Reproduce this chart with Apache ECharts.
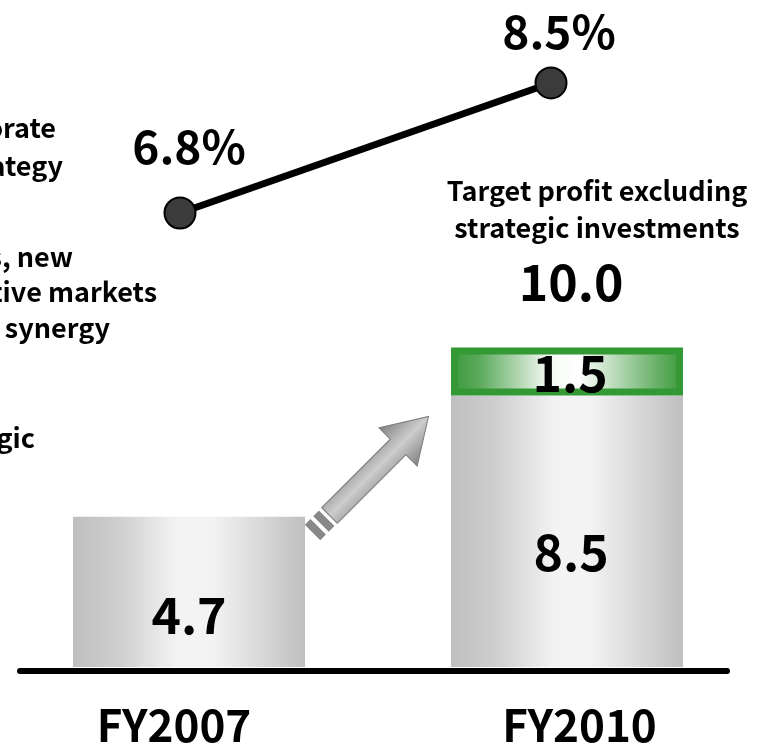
<!DOCTYPE html>
<html>
<head>
<meta charset="utf-8">
<script src="https://cdn.jsdelivr.net/npm/echarts@6/dist/echarts.min.js"></script>
<style>
  html, body { margin: 0; padding: 0; background: #fff; }
  #main { width: 769px; height: 747px; }
</style>
</head>
<body>
<div id="main"></div>
<script>
// data
var years = ['FY2007', 'FY2010'];
var profitBase = [4.7, 8.5];          // gray bars
var strategicInvest = [null, 1.5];    // green part on top
var marginPct = [6.8, 8.5];           // line, %
var totalTitle = ['Target profit excluding', 'strategic investments'];

// cut-off text of the panel on the left
var sideLines = ['Corporate', 'strategy', 'businesses, new', 'competitive markets', 'synergy', 'Strategic'];

var FONT = "'Noto Sans CJK JP', 'Noto Sans', sans-serif";

var grayFill = new echarts.graphic.LinearGradient(0, 0, 1, 0, [
    {offset: 0, color: '#bfbfbf'},
    {offset: 0.2, color: '#cfcfcf'},
    {offset: 0.45, color: '#f3f3f3'},
    {offset: 0.6, color: '#f3f3f3'},
    {offset: 0.85, color: '#d3d3d3'},
    {offset: 1, color: '#bfbfbf'}
]);
var greenFill = new echarts.graphic.LinearGradient(0, 0, 1, 0, [
    {offset: 0, color: '#3a9a3a'},
    {offset: 0.12, color: '#5aa95a'},
    {offset: 0.42, color: '#f4f9f4'},
    {offset: 0.55, color: '#ffffff'},
    {offset: 0.88, color: '#6cb26c'},
    {offset: 1, color: '#3a9a3a'}
]);

function fmt1(v) { return (+v).toFixed(1); }

var baseData = profitBase.map(function (v, i) {
    var item = {value: v};
    if (i == 0) {
        item.label = {position: 'insideBottom', distance: 27};
    } else {
        item.label = {position: 'inside', offset: [4, 21]};
    }
    return item;
});
var extraData = strategicInvest.map(function (v) {
    return v == null ? '-' : v;
});
var totalData = profitBase.map(function (v, i) {
    return strategicInvest[i] == null ? '-' : v + strategicInvest[i];
});

var barLabel = {
    show: true,
    color: '#000',
    fontFamily: FONT,
    fontWeight: 'bold',
    fontSize: 50,
    lineHeight: 50
};

var option = {
    backgroundColor: '#fff',
    animation: false,
    grid: [
        // bars: category centres land under the two boxes
        {left: -4, width: 760, top: 28, bottom: 79},
        // margin line
        {left: 180, width: 371, top: 44.7, height: 229.5},
        // base line
        {left: 20, right: 42, top: 28, bottom: 76}
    ],
    xAxis: [
        {
            gridIndex: 0,
            type: 'category',
            data: years,
            axisLine: {show: false},
            axisTick: {show: false},
            axisLabel: {
                margin: 36,
                formatter: function (v) {
                    return '{y' + years.indexOf(v) + '|' + v + '}';
                },
                rich: {
                    y0: {fontFamily: FONT, fontWeight: 'bold', fontSize: 44, lineHeight: 44, color: '#000', padding: [0, 30, 0, 0]},
                    y1: {fontFamily: FONT, fontWeight: 'bold', fontSize: 44, lineHeight: 44, color: '#000', padding: [0, 0, 0, 25]}
                }
            }
        },
        {
            gridIndex: 1,
            type: 'category',
            data: years,
            boundaryGap: false,
            show: false
        },
        {
            gridIndex: 2,
            type: 'category',
            data: years,
            z: 10,
            axisLine: {show: true, lineStyle: {color: '#000', width: 6}},
            axisTick: {show: false},
            axisLabel: {show: false},
            splitLine: {show: false}
        }
    ],
    yAxis: [
        {gridIndex: 0, type: 'value', min: 0, max: 20, show: false},
        {gridIndex: 1, type: 'value', min: 6, max: 9, show: false},
        {gridIndex: 2, type: 'value', min: 0, max: 20, show: false}
    ],
    series: [
        {
            name: 'profit',
            type: 'bar',
            xAxisIndex: 0,
            yAxisIndex: 0,
            stack: 'p',
            barWidth: 232,
            itemStyle: {color: grayFill},
            label: Object.assign({formatter: function (p) { return fmt1(p.value); }}, barLabel),
            data: baseData
        },
        {
            name: 'strategic',
            type: 'bar',
            xAxisIndex: 0,
            yAxisIndex: 0,
            stack: 'p',
            barWidth: 232,
            itemStyle: {color: greenFill, borderColor: '#349934', borderWidth: 7},
            label: Object.assign({position: 'inside', offset: [3, 2], formatter: function (p) { return fmt1(p.value); }}, barLabel),
            data: extraData
        },
        {
            name: 'total',
            type: 'scatter',
            xAxisIndex: 0,
            yAxisIndex: 0,
            symbolSize: 1,
            itemStyle: {color: 'rgba(0,0,0,0)', opacity: 1},
            label: {
                show: true,
                position: 'top',
                distance: 29,
                offset: [4, 0],
                formatter: function (p) {
                    return '{h|' + totalTitle[0] + '}\n{h|' + totalTitle[1] + '}\n{v|' + fmt1(p.value) + '}';
                },
                rich: {
                    h: {fontFamily: FONT, fontWeight: 'bold', fontSize: 27, lineHeight: 37, color: '#000', padding: [0, 0, 0, 52]},
                    v: {fontFamily: FONT, fontWeight: 'bold', fontSize: 50, lineHeight: 72, color: '#000'}
                }
            },
            data: totalData
        },
        {
            name: 'margin',
            type: 'line',
            xAxisIndex: 1,
            yAxisIndex: 1,
            symbol: 'circle',
            symbolSize: 31,
            lineStyle: {color: '#000', width: 7},
            itemStyle: {color: '#3b3b3b', borderColor: '#000', borderWidth: 2},
            label: {
                show: true,
                position: 'top',
                color: '#000',
                fontFamily: FONT,
                fontWeight: 'bold',
                fontSize: 46,
                lineHeight: 48,
                formatter: function (p) { return p.value + '%'; }
            },
            data: marginPct.map(function (v, i) {
                return {
                    value: v,
                    label: i == 0 ? {distance: 26, offset: [9, 0]} : {distance: 11, offset: [8, 0]}
                };
            })
        }
    ]
};

// arrow between the bars
var shaftFill = new echarts.graphic.LinearGradient(0, 0, 0, 1, [
    {offset: 0, color: '#808080'},
    {offset: 0.5, color: '#cdcdcd'},
    {offset: 1, color: '#808080'}
]);
var arrow = {
    type: 'group',
    x: 329.5,
    y: 515.5,
    rotation: Math.PI / 4,
    children: [
        {
            type: 'polygon',
            shape: {points: [[0, -11], [97, -11], [97, -27], [140, 0], [97, 27], [97, 11], [0, 11]]},
            style: {fill: shaftFill, stroke: '#7a7a7a', lineWidth: 1}
        },
        {
            type: 'rect',
            shape: {x: -12, y: -11, width: 8, height: 22},
            style: {fill: '#888'}
        },
        {
            type: 'rect',
            shape: {x: -24, y: -11, width: 8, height: 22},
            style: {fill: '#888'}
        }
    ]
};

// right ends of the clipped text: [right x, middle y]
var sidePos = [[56, 128], [63, 166], [73, 257], [157, 292], [110, 328], [35, 438]];
var sideTexts = sideLines.map(function (t, i) {
    return {
        type: 'text',
        style: {
            text: t,
            x: sidePos[i][0],
            y: sidePos[i][1],
            align: 'right',
            verticalAlign: 'middle',
            textAlign: 'right',
            textVerticalAlign: 'middle',
            fill: '#000',
            fontFamily: FONT,
            fontWeight: 'bold',
            fontSize: 27
        }
    };
});

option.graphic = [arrow].concat(sideTexts);

var chart = echarts.init(document.getElementById('main'));
chart.setOption(option);
</script>
</body>
</html>
